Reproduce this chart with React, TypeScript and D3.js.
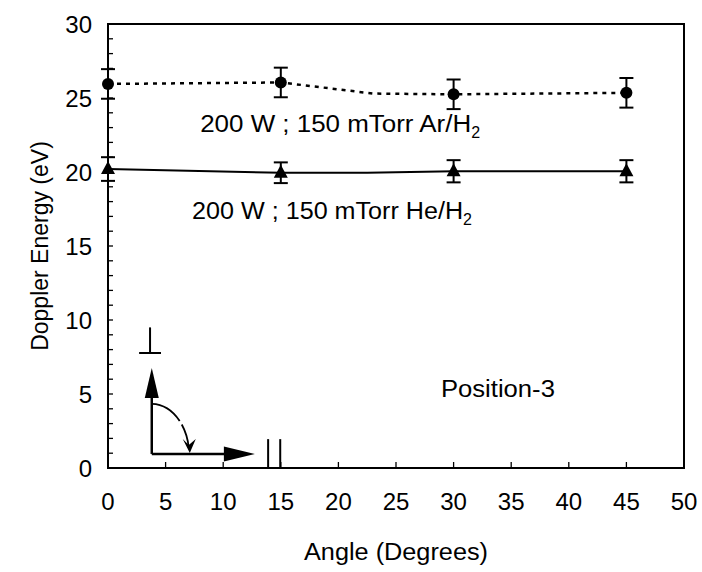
import React from "react";
import * as d3 from "d3";

const angles = [0, 15, 30, 45];
const arValues = [25.95, 26.05, 25.25, 25.35];
const arErrors = [1.0, 1.0, 1.0, 1.0];
const heValues = [20.2, 19.95, 20.05, 20.05];
const heErrors = [0.8, 0.7, 0.75, 0.75];
// connecting-line vertices (the original lines bend between markers)
const arLineAngles = [0, 15, 23, 30, 45];
const arLineValues = [25.95, 26.05, 25.3, 25.25, 25.35];
const heLineAngles = [0, 15, 22.5, 30, 45];
const heLineValues = [20.2, 19.95, 19.95, 20.05, 20.05];
const xTicks = [0, 5, 10, 15, 20, 25, 30, 35, 40, 45, 50];
const yTicks = [0, 5, 10, 15, 20, 25, 30];
const yMinor = d3.range(0, 31, 1);

const W = 702;
const H = 572;
const FONT = "'Liberation Sans', Arial, sans-serif";

export default function App() {
  const x = d3.scaleLinear().domain([0, 50]).range([108, 684]);
  const y = d3.scaleLinear().domain([0, 30]).range([468, 24]);
  const line = d3
    .line<[number, number]>()
    .x((d) => x(d[0]))
    .y((d) => y(d[1]));
  const arLine = line(arLineAngles.map((a, i) => [a, arLineValues[i]]) as [number, number][]);
  const heLine = line(heLineAngles.map((a, i) => [a, heLineValues[i]]) as [number, number][]);
  const cap = 7;
  const tri = (cx: number, cy: number) =>
    `M${cx},${cy - 8}L${cx + 7},${cy + 5}L${cx - 7},${cy + 5}Z`;

  // inset annotation in data units
  const ox = 3.8, oy = 0.95;
  const vTip = 6.75, hTip = 12.75;
  return (
    <svg width={W} height={H} style={{ display: "block", position: "absolute", left: 0, top: 0 }}>
      <rect x={0} y={0} width={W} height={H} fill="#fff" />
      {/* minor y ticks */}
      {yMinor.map((v) => (
        <line key={"ym" + v} x1={x(0)} x2={x(0) + 5} y1={y(v)} y2={y(v)} stroke="#000" strokeWidth={1.3} />
      ))}
      {xTicks.map((v) => (
        <line key={"xt" + v} x1={x(v)} x2={x(v)} y1={y(0)} y2={y(0) - 6} stroke="#000" strokeWidth={1.3} />
      ))}
      {/* frame */}
      <rect x={x(0)} y={y(30)} width={x(50) - x(0)} height={y(0) - y(30)} fill="none" stroke="#000" strokeWidth={2} />
      {yTicks.map((v) => (
        <text key={"yl" + v} x={x(0) - 16} y={y(v) + 8.5} fontSize={24} fontFamily={FONT} textAnchor="end">
          {v}
        </text>
      ))}
      {xTicks.map((v) => (
        <text key={"xl" + v} x={x(v)} y={510} fontSize={24} fontFamily={FONT} textAnchor="middle">
          {v}
        </text>
      ))}
      <text
        x={x(25) - 92}
        y={560}
        fontSize={23}
        fontFamily={FONT}
        textLength={184}
        lengthAdjust="spacingAndGlyphs"
      >
        Angle (Degrees)
      </text>
      <text
        transform={`translate(48,${y(15)}) rotate(-90)`}
        fontSize={23}
        fontFamily={FONT}
        textAnchor="middle"
      >
        Doppler Energy (eV)
      </text>

      {/* series lines */}
      <path d={arLine || ""} fill="none" stroke="#000" strokeWidth={2.5} strokeDasharray="4,5" />
      <path d={heLine || ""} fill="none" stroke="#000" strokeWidth={2} />

      {/* error bars */}
      {angles.map((a, i) => (
        <g key={"ea" + a} stroke="#000" strokeWidth={2}>
          <line x1={x(a)} x2={x(a)} y1={y(arValues[i] + arErrors[i])} y2={y(arValues[i] - arErrors[i])} />
          <line x1={x(a) - cap} x2={x(a) + cap} y1={y(arValues[i] + arErrors[i])} y2={y(arValues[i] + arErrors[i])} />
          <line x1={x(a) - cap} x2={x(a) + cap} y1={y(arValues[i] - arErrors[i])} y2={y(arValues[i] - arErrors[i])} />
        </g>
      ))}
      {angles.map((a, i) => (
        <g key={"eh" + a} stroke="#000" strokeWidth={2}>
          <line x1={x(a)} x2={x(a)} y1={y(heValues[i] + heErrors[i])} y2={y(heValues[i] - heErrors[i])} />
          <line x1={x(a) - cap} x2={x(a) + cap} y1={y(heValues[i] + heErrors[i])} y2={y(heValues[i] + heErrors[i])} />
          <line x1={x(a) - cap} x2={x(a) + cap} y1={y(heValues[i] - heErrors[i])} y2={y(heValues[i] - heErrors[i])} />
        </g>
      ))}
      {/* markers */}
      {angles.map((a, i) => (
        <circle key={"ca" + a} cx={x(a)} cy={y(arValues[i])} r={6} fill="#000" />
      ))}
      {angles.map((a, i) => (
        <path key={"th" + a} d={tri(x(a), y(heValues[i]))} fill="#000" />
      ))}

      {/* series labels */}
      <text x={x(8)} y={y(22.7)} fontSize={23} fontFamily={FONT}>
        <tspan textLength={271} lengthAdjust="spacingAndGlyphs">200 W ; 150 mTorr Ar/H</tspan>
        <tspan fontSize={16} dy={6}>2</tspan>
      </text>
      <text x={x(7.3)} y={y(16.8)} fontSize={23} fontFamily={FONT}>
        <tspan textLength={271} lengthAdjust="spacingAndGlyphs">200 W ; 150 mTorr He/H</tspan>
        <tspan fontSize={16} dy={6}>2</tspan>
      </text>
      <text x={x(28.9)} y={y(4.8)} fontSize={23} fontFamily={FONT} textLength={114} lengthAdjust="spacingAndGlyphs">
        Position-3
      </text>

      {/* inset: polarization sketch */}
      <g stroke="#000" strokeWidth={2.5} fill="none">
        <line x1={x(ox)} x2={x(ox)} y1={y(oy)} y2={y(vTip) + 28} />
        <line x1={x(ox)} x2={x(hTip) - 30} y1={y(oy)} y2={y(oy)} />
      </g>
      <path d={`M${x(ox)},${y(vTip)}L${x(ox) + 7},${y(vTip) + 30}L${x(ox) - 7},${y(vTip) + 30}Z`} fill="#000" />
      <path d={`M${x(hTip)},${y(oy)}L${x(hTip) - 31},${y(oy) - 7.5}L${x(hTip) - 31},${y(oy) + 7.5}Z`} fill="#000" />
      {/* curved arrow */}
      <path
        d={`M${x(ox)},${y(oy) - 50} A38,50 0 0 1 ${x(ox) + 37},${y(oy) - 6}`}
        fill="none"
        stroke="#000"
        strokeWidth={1.8}
        strokeDasharray="34,4,60"
      />
      <path
        d={`M${x(ox) + 31},${y(oy) - 15} L${x(ox) + 37},${y(oy) - 9} L${x(ox) + 44},${y(oy) - 15} L${x(ox) + 38},${y(oy) - 1} Z`}
        fill="#000"
      />
      {/* perpendicular / parallel symbols */}
      <g stroke="#000" strokeWidth={2}>
        <line x1={x(3.65)} x2={x(3.65)} y1={y(9.5)} y2={y(7.77)} />
        <line x1={x(2.7)} x2={x(4.6)} y1={y(7.77)} y2={y(7.77)} />
        <line x1={x(13.9)} x2={x(13.9)} y1={y(0)} y2={y(1.95)} />
        <line x1={x(14.95)} x2={x(14.95)} y1={y(0)} y2={y(1.95)} />
      </g>
    </svg>
  );
}
